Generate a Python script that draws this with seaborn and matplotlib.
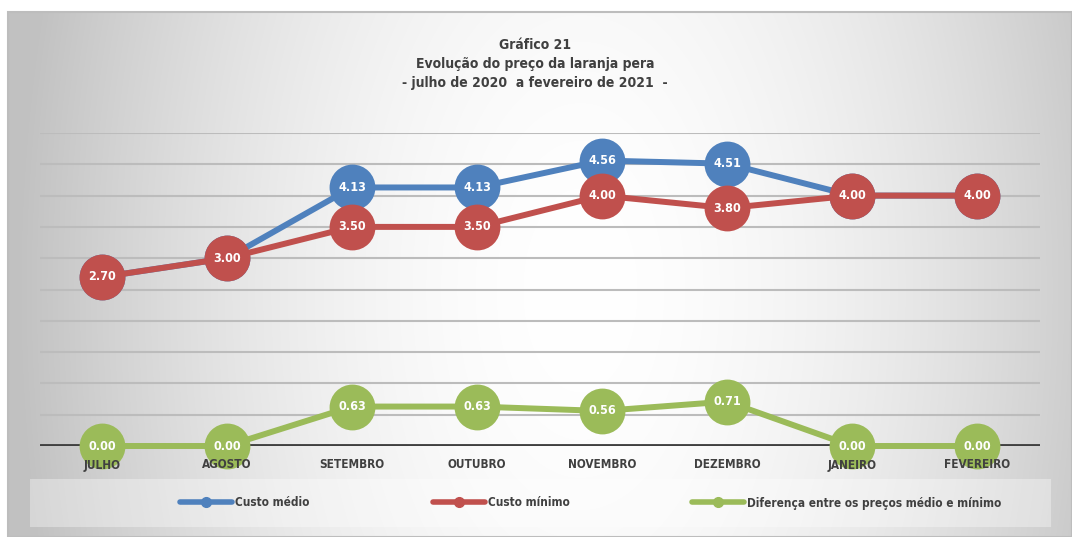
import numpy as np
import pandas as pd
import matplotlib.pyplot as plt
import seaborn as sns
from matplotlib.lines import Line2D
from matplotlib.patches import Rectangle

# dados do gráfico
meses = ['JULHO', 'AGOSTO', 'SETEMBRO', 'OUTUBRO', 'NOVEMBRO', 'DEZEMBRO', 'JANEIRO', 'FEVEREIRO']
custo_medio = [2.70, 3.00, 4.13, 4.13, 4.56, 4.51, 4.00, 4.00]
custo_minimo = [2.70, 3.00, 3.50, 3.50, 4.00, 3.80, 4.00, 4.00]
diferenca = [0.00, 0.00, 0.63, 0.63, 0.56, 0.71, 0.00, 0.00]
series = ['Custo médio', 'Custo mínimo', 'Diferença entre os preços médio e mínimo']
cores = ['#4F81BD', '#C0504D', '#9BBB59']

df = pd.DataFrame({
    'mes': meses * 3,
    'valor': custo_medio + custo_minimo + diferenca,
    'serie': [series[0]] * 8 + [series[1]] * 8 + [series[2]] * 8,
})

sns.set_theme(style='white')
plt.rcParams['font.family'] = ['DejaVu Sans']
plt.rcParams['font.stretch'] = 'condensed'
plt.rcParams['font.weight'] = 'bold'

W, H = 1072, 537
fig = plt.figure(figsize=(W / 100, H / 100), dpi=100)

# fundo com gradiente radial
bg = fig.add_axes([0, 0, 1, 1], zorder=-10)
xx, yy = np.meshgrid(np.arange(W), np.arange(H))
d = np.sqrt(((xx - 580) / 560) ** 2 + ((yy - 290) / 1000) ** 2)
v = 1 - 0.24 * np.clip(d, 0, 1) ** 1.8
img = np.dstack([v, v, v])
img[:12, :] = 1
img[:, :8] = 1
bg.imshow(img, extent=(0, W, H, 0), aspect='auto')
bg.add_patch(Rectangle((8, 12), W - 8, H - 12, fill=False, ec='#bdbdbd', lw=1.5))
# caixa da legenda
bg.add_patch(Rectangle((30, 479), 1021, 48, fc='white', alpha=0.35, ec='none'))
bg.set_xlim(0, W)
bg.set_ylim(H, 0)
bg.axis('off')

ax = fig.add_axes([39.5 / W, 1 - 446 / H, 1000 / W, 313 / H])
ax.patch.set_alpha(0)

for y in np.arange(0.5, 5.01, 0.5):
    ax.axhline(y, color='#bcbcbc', lw=1.5, zorder=0.5)
ax.axhline(0, color='#404040', lw=3.5, zorder=1)

sns.lineplot(data=df, x='mes', y='valor', hue='serie', hue_order=series,
             palette=cores, marker='o', markersize=33, markeredgewidth=0,
             linewidth=4.3, sort=False, legend=False, clip_on=False, ax=ax)

for i in range(len(meses)):
    if custo_medio[i] != custo_minimo[i]:
        ax.text(i, custo_medio[i], f'{custo_medio[i]:.2f}', color='white',
                ha='center', va='center', fontsize=9, fontweight='bold', zorder=10)
    ax.text(i, custo_minimo[i], f'{custo_minimo[i]:.2f}', color='white',
            ha='center', va='center', fontsize=9, fontweight='bold', zorder=10)
    ax.text(i, diferenca[i], f'{diferenca[i]:.2f}', color='white',
            ha='center', va='center', fontsize=9, fontweight='bold', zorder=10,
            clip_on=False)

ax.set_xlim(-0.5, 7.5)
ax.set_ylim(0, 5)
ax.set_yticks([])
ax.set_xlabel('')
ax.set_ylabel('')
ax.tick_params(axis='x', length=0, pad=9, labelsize=8.5, labelcolor='#404040')
ax.xaxis.set_zorder(5)
sns.despine(ax=ax, left=True, bottom=True)

fig.text(535 / W, 1 - 64 / H,
         'Gráfico 21\nEvolução do preço da laranja pera\n- julho de 2020  a fevereiro de 2021  -',
         ha='center', va='center', fontsize=10, fontweight='bold', color='#404040',
         linespacing=1.45)

# legenda: uma entrada por posição
pos_legenda = [180, 433, 692]
for serie, cor, px in zip(series, cores, pos_legenda):
    h = Line2D([], [], color=cor, lw=4, marker='o', markersize=7,
               solid_capstyle='round')
    fig.legend([h], [serie], loc='center left', bbox_to_anchor=(px / W, 1 - 503 / H),
               frameon=False, fontsize=8.5, handlelength=4.4, handletextpad=0.3,
               borderpad=0, borderaxespad=0, labelcolor='#404040')

fig.savefig('out.png', dpi=100)
